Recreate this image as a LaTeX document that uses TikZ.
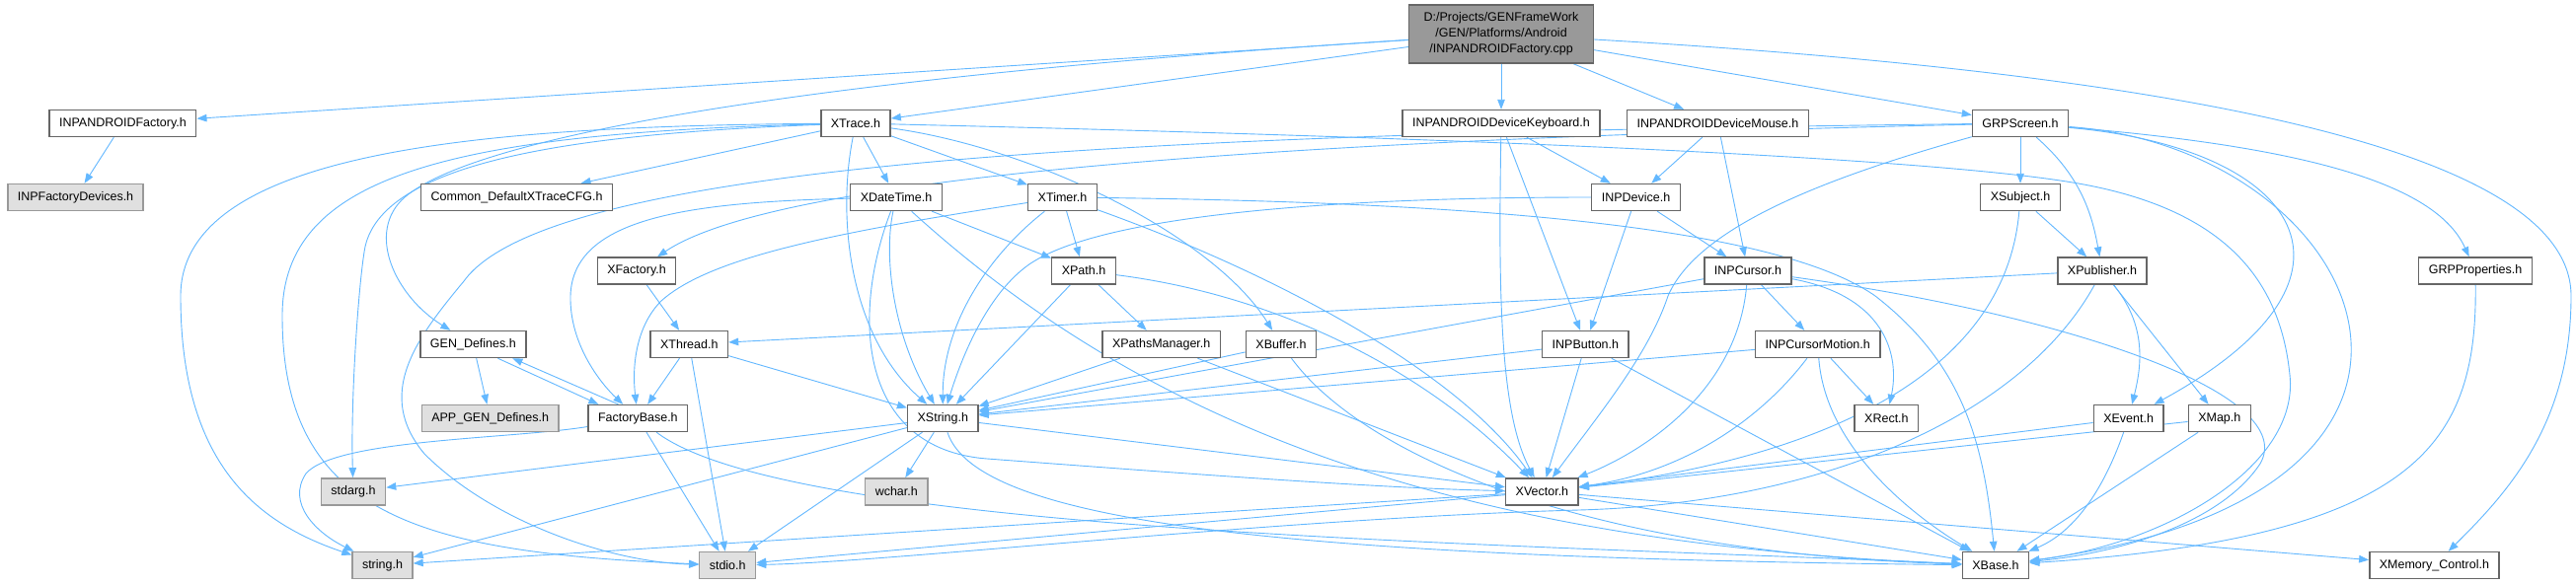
\documentclass[tikz,border=0pt]{standalone}
\usepackage{fontspec}
\setmainfont{Liberation Sans}
\usetikzlibrary{arrows.meta,backgrounds}
\definecolor{kantenblau}{HTML}{63B8FF}
\definecolor{rand}{HTML}{666666}
\definecolor{sysrand}{HTML}{999999}
\definecolor{sysfill}{HTML}{E0E0E0}
\definecolor{wurzel}{HTML}{999999}

\begin{document}
\begin{tikzpicture}[x=1pt, y=-1pt,
        datei/.style={draw=rand, line width=1.4pt, fill=white, minimum height=27pt,
            inner xsep=10pt, inner ysep=0pt, font=\fontsize{12.5}{15}\selectfont},
        system/.style={datei, draw=sysrand, fill=sysfill},
        inc/.style={draw=kantenblau, line width=0.9pt, -{Triangle[length=10pt,width=7.5pt]}}]

        \useasboundingbox (0,0) rectangle (2610,592);

        % Wurzel
        \node[datei, fill=wurzel, align=center, minimum width=187pt, minimum height=59pt,
            font=\fontsize{12.5}{16}\selectfont] (Root) at (1521,34.5)
            {D:/Projects/GENFrameWork\\/GEN/Platforms/Android\\/INPANDROIDFactory.cpp};

        % Zeile 1
        \node[datei] (INPFactory) at (124.4,125) {INPANDROIDFactory.h};
        \node[datei] (XTrace) at (867,125) {XTrace.h};
        \node[datei] (Keyboard) at (1521,125) {INPANDROIDDeviceKeyboard.h};
        \node[datei] (Mouse) at (1740.5,125) {INPANDROIDDeviceMouse.h};
        \node[datei] (GRPScreen) at (2047,125) {GRPScreen.h};

        % Zeile 2
        \node[system] (FactoryDevices) at (76.5,200) {INPFactoryDevices.h};
        \node[datei] (CommonCFG) at (523.6,200) {Common\_DefaultXTraceCFG.h};
        \node[datei] (XDateTime) at (908,200) {XDateTime.h};
        \node[datei] (XTimer) at (1076.5,200) {XTimer.h};
        \node[datei] (INPDevice) at (1657.5,200) {INPDevice.h};
        \node[datei] (XSubject) at (2047,200) {XSubject.h};

        % Zeile 3
        \node[datei] (XFactory) at (645,274.5) {XFactory.h};
        \node[datei] (XPath) at (1098,274.5) {XPath.h};
        \node[datei] (INPCursor) at (1771,274.5) {INPCursor.h};
        \node[datei] (XPublisher) at (2130,274.5) {XPublisher.h};
        \node[datei] (GRPProperties) at (2508,274.5) {GRPProperties.h};

        % Zeile 4
        \node[datei] (GENDefines) at (479.4,349) {GEN\_Defines.h};
        \node[datei] (XThread) at (698.3,349) {XThread.h};
        \node[datei] (XPathsManager) at (1176.7,349) {XPathsManager.h};
        \node[datei] (XBuffer) at (1298,349) {XBuffer.h};
        \node[datei] (INPButton) at (1606.4,349) {INPButton.h};
        \node[datei] (CursorMotion) at (1841.7,349) {INPCursorMotion.h};

        % Zeile 5
        \node[system] (APPDefines) at (496.7,424) {APP\_GEN\_Defines.h};
        \node[datei] (FactoryBase) at (646.4,424) {FactoryBase.h};
        \node[datei] (XString) at (955.3,424) {XString.h};
        \node[datei] (XRect) at (1911.4,424) {XRect.h};
        \node[datei] (XEvent) at (2156.6,424) {XEvent.h};
        \node[datei] (XMap) at (2248.8,424) {XMap.h};

        % Zeile 6
        \node[system] (stdarg) at (358,498.3) {stdarg.h};
        \node[system] (wchar) at (908.3,498.3) {wchar.h};
        \node[datei] (XVector) at (1562.4,498.3) {XVector.h};

        % Zeile 7
        \node[system] (stringh) at (387.5,573) {string.h};
        \node[system] (stdio) at (737.2,573) {stdio.h};
        \node[datei] (XBase) at (2022,573) {XBase.h};
        \node[datei] (XMemory) at (2466.4,573) {XMemory\_Control.h};

        \begin{pgfonlayer}{background}
        \fill[white] (0,0) rectangle (2610,592);

        % Kanten von der Wurzel
        \draw[inc] (Root) -- (INPFactory);
        \draw[inc] (Root) .. controls (800,80) and (480,140) .. (410,200)
            .. controls (370,235) and (400,300) .. (GENDefines);
        \draw[inc] (Root) -- (XTrace);
        \draw[inc] (Root) -- (Keyboard);
        \draw[inc] (Root) -- (Mouse);
        \draw[inc] (Root) -- (GRPScreen);
        \draw[inc] (Root) .. controls (2300,80) and (2605,170) .. (2605,300)
            .. controls (2605,430) and (2540,500) .. (XMemory);
        \draw[inc] (INPFactory) -- (FactoryDevices);

        % XTrace
        \draw[inc] (XTrace) -- (CommonCFG);
        \draw[inc] (XTrace) -- (XDateTime);
        \draw[inc] (XTrace) -- (XTimer);
        \draw[inc] (XTrace) .. controls (1050,150) and (1230,240) .. (XBuffer);
        \draw[inc] (XTrace) .. controls (848,220) and (860,340) .. (XString);
        \draw[inc] (XTrace) .. controls (1500,140) and (1950,160) .. (2100,185)
            .. controls (2250,210) and (2310,280) .. (2320,380)
            .. controls (2330,470) and (2200,550) .. (XBase);
        \draw[inc] (XTrace) .. controls (500,128) and (183,150) .. (183,300)
            .. controls (183,470) and (260,530) .. (stringh);
        \draw[inc] (XTrace) .. controls (450,135) and (286,180) .. (286,320)
            .. controls (286,520) and (420,560) .. (stdio);
        \draw[inc] (XTrace) .. controls (600,135) and (390,160) .. (370,250)
            .. controls (364,280) and (355,400) .. (stdarg);

        % XDateTime, XTimer
        \draw[inc] (XDateTime) .. controls (700,205) and (580,220) .. (578,300)
            .. controls (577,350) and (610,390) .. (FactoryBase);
        \draw[inc] (XDateTime) -- (XPath);
        \draw[inc] (XDateTime) .. controls (895,260) and (905,340) .. (XString);
        \draw[inc] (XDateTime) .. controls (862,320) and (870,455) .. (1000,465)
            .. controls (1200,480) and (1400,495) .. (XVector);
        \draw[inc] (XDateTime) .. controls (1150,420) and (1450,550) .. (XBase);
        \draw[inc] (XTimer) -- (XPath);
        \draw[inc] (XTimer) .. controls (1000,260) and (955,330) .. (XString);
        \draw[inc] (XTimer) .. controls (850,235) and (720,260) .. (670,305)
            .. controls (645,330) and (640,370) .. (FactoryBase);
        \draw[inc] (XTimer) .. controls (1300,280) and (1480,380) .. (XVector);
        \draw[inc] (XTimer) .. controls (1500,205) and (1800,230) .. (1900,300)
            .. controls (1990,370) and (2010,450) .. (XBase);

        % XPath, XPathsManager, XBuffer
        \draw[inc] (XPath) -- (XPathsManager);
        \draw[inc] (XPath) -- (XString);
        \draw[inc] (XPath) .. controls (1300,300) and (1450,380) .. (XVector);
        \draw[inc] (XPathsManager) -- (XString);
        \draw[inc] (XPathsManager) -- (XVector);
        \draw[inc] (XBuffer) -- (XString);
        \draw[inc] (XBuffer) .. controls (1380,460) and (1600,560) .. (XBase);

        % XString, XVector
        \draw[inc] (XString) -- (wchar);
        \draw[inc] (XString) -- (stdarg);
        \draw[inc] (XString) -- (stringh);
        \draw[inc] (XString) -- (stdio);
        \draw[inc] (XString) -- (XVector);
        \draw[inc] (XString) .. controls (990,530) and (1300,565) .. (XBase);
        \draw[inc] (XVector) -- (stringh);
        \draw[inc] (XVector) -- (stdio);
        \draw[inc] (XVector) -- (XBase);
        \draw[inc] (XVector) -- (XMemory);

        % GEN_Defines, FactoryBase, XThread
        \draw[inc] ([xshift=25pt]GENDefines.south) -- ([xshift=-40pt]FactoryBase.north);
        \draw[inc] ([xshift=-20pt]FactoryBase.north) -- ([xshift=40pt]GENDefines.south);
        \draw[inc] (GENDefines) -- (APPDefines);
        \draw[inc] (FactoryBase) .. controls (520,445) and (340,445) .. (310,480)
            .. controls (290,510) and (320,540) .. (stringh);
        \draw[inc] (FactoryBase) -- (stdio);
        \draw[inc] (FactoryBase) .. controls (800,540) and (1500,550) .. (XBase);
        \draw[inc] (XFactory) -- (XThread);
        \draw[inc] (XThread) -- (FactoryBase);
        \draw[inc] (XThread) -- (stdio);
        \draw[inc] (XThread) -- (XString);

        % GRPScreen
        \draw[inc] (GRPScreen) -- (XSubject);
        \draw[inc] (GRPScreen) .. controls (2110,180) and (2120,220) .. (XPublisher);
        \draw[inc] (GRPScreen) .. controls (2350,150) and (2470,190) .. (GRPProperties);
        \draw[inc] (GRPScreen) .. controls (2330,150) and (2420,280) .. (XEvent);
        \draw[inc] (GRPScreen) .. controls (2400,150) and (2560,500) .. (XBase);
        \draw[inc] (GRPScreen) .. controls (1850,180) and (1720,230) .. (1690,300)
            .. controls (1670,360) and (1620,420) .. (XVector);
        \draw[inc] (GRPScreen) .. controls (1400,140) and (800,170) .. (XFactory);
        \draw[inc] (GRPScreen) .. controls (1200,135) and (560,160) .. (470,285)
            .. controls (420,345) and (380,400) .. (430,460)
            .. controls (500,530) and (620,570) .. (stdio);
        \draw[inc] (GRPProperties) .. controls (2510,450) and (2450,545) .. (XBase);

        % XSubject, XPublisher, XEvent, XMap
        \draw[inc] (XSubject) -- (XPublisher);
        \draw[inc] (XSubject) .. controls (2030,400) and (1800,470) .. (XVector);
        \draw[inc] (XPublisher) -- (XThread);
        \draw[inc] (XPublisher) .. controls (2175,330) and (2170,370) .. (XEvent);
        \draw[inc] (XPublisher) -- (XMap);
        \draw[inc] (XPublisher) .. controls (2050,420) and (1850,510) .. (1600,517)
            .. controls (1300,525) and (900,570) .. (stdio);
        \draw[inc] (XEvent) -- (XVector);
        \draw[inc] (XEvent) .. controls (2130,500) and (2100,540) .. (XBase);
        \draw[inc] (XMap) -- (XVector);
        \draw[inc] (XMap) -- (XBase);

        % Tastatur, Maus, Geraete
        \draw[inc] (Keyboard) -- (INPDevice);
        \draw[inc] (Keyboard) -- (INPButton);
        \draw[inc] (Keyboard) .. controls (1518,300) and (1520,420) .. (XVector);
        \draw[inc] (Mouse) -- (INPDevice);
        \draw[inc] (Mouse) -- (INPCursor);
        \draw[inc] (INPDevice) -- (INPCursor);
        \draw[inc] (INPDevice) -- (INPButton);
        \draw[inc] (INPDevice) .. controls (1300,200) and (1100,225) .. (1040,270)
            .. controls (1000,300) and (975,360) .. (XString);

        % INPCursor, INPButton, INPCursorMotion
        \draw[inc] (INPCursor) -- (CursorMotion);
        \draw[inc] (INPCursor) .. controls (1910,300) and (1925,360) .. (XRect);
        \draw[inc] (INPCursor) -- (XString);
        \draw[inc] (INPCursor) .. controls (1760,400) and (1660,460) .. (XVector);
        \draw[inc] (INPCursor) .. controls (2100,320) and (2330,400) .. (2290,470)
            .. controls (2250,530) and (2150,560) .. (XBase);
        \draw[inc] (INPButton) -- (XString);
        \draw[inc] (INPButton) -- (XVector);
        \draw[inc] (INPButton) -- (XBase);
        \draw[inc] (CursorMotion) -- (XString);
        \draw[inc] (CursorMotion) -- (XRect);
        \draw[inc] (CursorMotion) .. controls (1780,430) and (1700,480) .. (XVector);
        \draw[inc] (CursorMotion) .. controls (1850,460) and (1950,530) .. (XBase);
        \end{pgfonlayer}

    \end{tikzpicture}
\end{document}
